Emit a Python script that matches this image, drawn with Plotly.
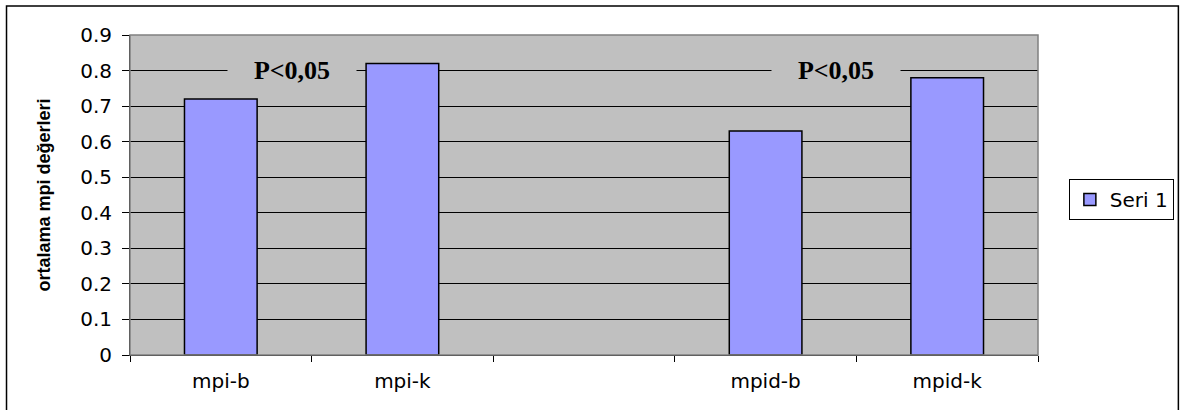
import plotly.graph_objects as go

# Mean mpi values per group (middle slot left empty as a spacer)
categories = ["mpi-b", "mpi-k", " ", "mpid-b", "mpid-k"]
values = [0.72, 0.82, None, 0.63, 0.78]
series_name = "Seri 1"
y_ticks = [0, 0.1, 0.2, 0.3, 0.4, 0.5, 0.6, 0.7, 0.8, 0.9]
y_title = "ortalama mpi değerleri"
p_label = "P<0,05"
p_label_x = [0.39, 3.39]
p_label_y = 0.8

PLOT_BG = "#C0C0C0"
BAR_FILL = "#9999FF"

fig = go.Figure()
fig.add_trace(go.Bar(
    x=categories,
    y=values,
    name=series_name,
    marker=dict(color=BAR_FILL, line=dict(color="black", width=1.5)),
    showlegend=True,
))

tick_font = dict(family="DejaVu Sans", size=20, color="black")

fig.update_layout(
    width=1186,
    height=410,
    margin=dict(l=130, r=144, t=35, b=55),
    paper_bgcolor="white",
    plot_bgcolor=PLOT_BG,
    bargap=0.6,
    showlegend=True,
    legend=dict(
        x=1.034, y=0.55, xanchor="left", yanchor="top",
        bordercolor="black", borderwidth=1, bgcolor="white",
        font=dict(family="DejaVu Sans", size=20, color="black"),
        itemwidth=30,
    ),
    xaxis=dict(
        type="category",
        categoryorder="array",
        categoryarray=categories,
        tickson="boundaries",
        ticks="outside",
        ticklen=6,
        tickcolor="black",
        showgrid=False,
        showline=True,
        linecolor="black",
        linewidth=1,
        tickfont=tick_font,
        ticklabelstandoff=8,
        range=[-0.5, len(categories) - 0.5],
    ),
    yaxis=dict(
        range=[0, 0.9],
        tickvals=y_ticks,
        ticktext=[f"{v:g}" for v in y_ticks],
        ticks="outside",
        ticklen=7,
        tickcolor="black",
        showgrid=True,
        gridcolor="black",
        gridwidth=1,
        showline=True,
        linecolor="black",
        linewidth=1,
        zeroline=False,
        tickfont=tick_font,
        ticklabelstandoff=6,
        title=dict(
            text=f"<b>{y_title}</b>",
            font=dict(family="Liberation Sans", size=18, color="black"),
            standoff=24,
        ),
    ),
)

# Grey frame around the plotting area (top/right edges)
fig.add_shape(type="rect", xref="paper", yref="paper", x0=0, x1=1, y0=0, y1=1,
              line=dict(color="#808080", width=1.5), layer="above")
# Outer chart frame (bottom edge runs past the page)
fig.add_shape(type="rect", xref="paper", yref="paper",
              x0=-0.136, x1=1.1546, y0=-0.3, y1=1.0906,
              line=dict(color="black", width=1.5))

# Significance labels sitting on the 0.8 gridline
for px in p_label_x:
    fig.add_annotation(
        x=px, y=p_label_y, xref="x", yref="y",
        text=f"<b>{p_label}</b>",
        showarrow=False,
        font=dict(family="Liberation Serif", size=26, color="black"),
        bgcolor=PLOT_BG,
        width=112,
        borderpad=8,
        xanchor="center", yanchor="middle",
    )

fig.write_html("out.html")
